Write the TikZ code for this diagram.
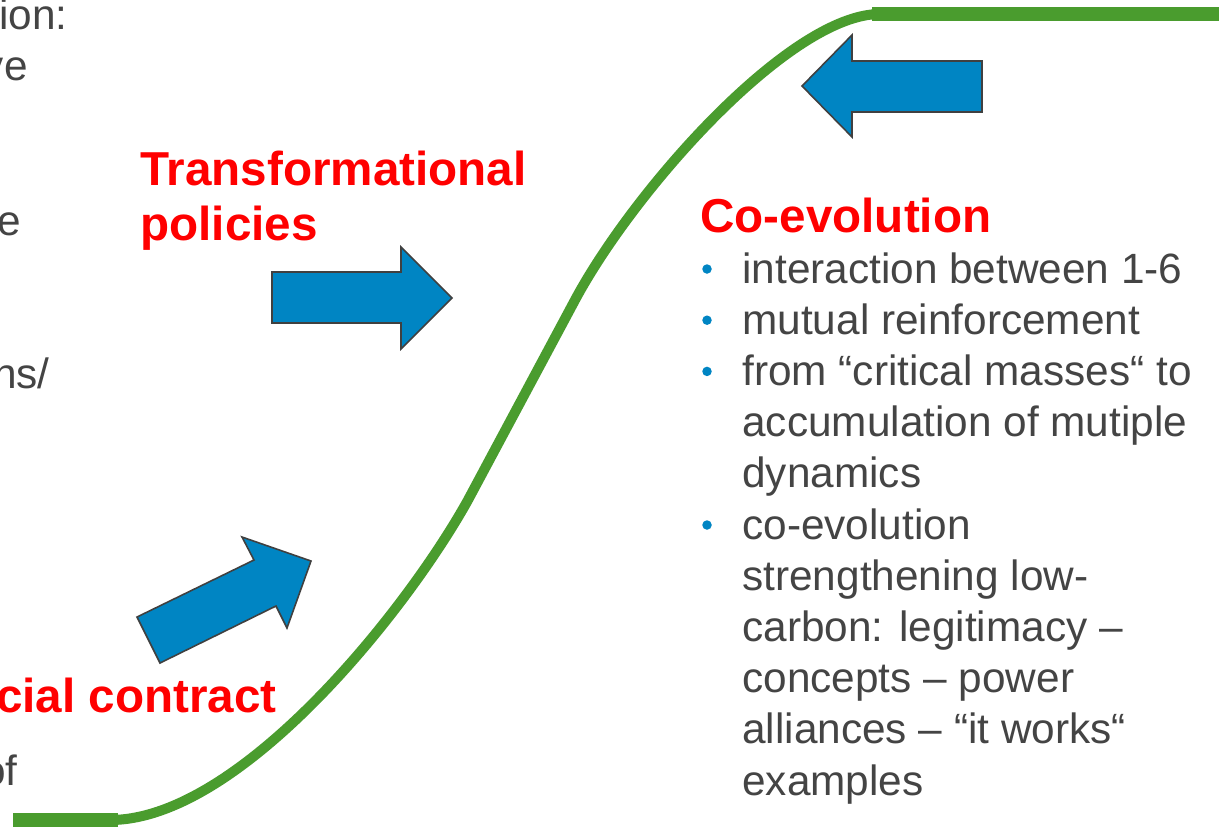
\documentclass[tikz,border=0pt]{standalone}
\usepackage{fontspec}
\setmainfont{Liberation Sans}
\usetikzlibrary{calc,positioning}
\definecolor{slidegray}{HTML}{444444}
\definecolor{slidered}{HTML}{FF0000}
\definecolor{arrowblue}{RGB}{0,133,195}
\definecolor{arrowline}{HTML}{404040}
\definecolor{curvegreen}{RGB}{74,156,46}
\tikzset{
	bodytext/.style={text=slidegray, inner sep=0pt,
		font=\fontsize{24.1}{29}\selectfont},
	redhead/.style={text=slidered, inner sep=0pt,
		font=\fontsize{27.1}{31}\selectfont\bfseries},
	itemdot/.style={circle, fill=arrowblue, inner sep=0pt, minimum size=0.19cm},
	blockarrow/.style={fill=arrowblue, draw=arrowline, line width=0.9pt, line join=miter},
	scurve/.style={draw=curvegreen, line width=5.7pt},
	sflat/.style={scurve, line width=7.6pt}
}

\begin{document}
\begin{tikzpicture}[x=0.02cm,y=-0.02cm]
	\useasboundingbox[fill=white] (0,0) rectangle (1219,836);
	% the S-curve with its two flat ends
	\draw[sflat] (13,820) -- (118,820);
	\draw[sflat] (872,14) -- (1219,14);
	\draw[scurve] (13,820) -- (110,820) .. controls (240,820) and (407,610) .. (468,500)
		-- (575,300) .. controls (634,190) and (790,14) .. (880,14) -- (1219,14);
	% block arrows
	\draw[blockarrow] (982,61) -- (852,61) -- (852,35) -- (802,86) -- (852,137) -- (852,112) -- (982,112) -- cycle;
	\draw[blockarrow] (272,272) -- (401,272) -- (401,247) -- (452,298) -- (401,349) -- (401,323) -- (272,323) -- cycle;
	\draw[blockarrow] (137,617) -- (254,560) -- (242,537) -- (311,561) -- (287,628) -- (276,606) -- (160,663) -- cycle;
	% cut-off column on the left
	\node[bodytext, anchor=base east] (frA) at (68,29) {ion:};
	\node[bodytext, anchor=base east] (frB) at (28,80) {ve};
	\node[bodytext, anchor=base east] (frC) at (21,235) {e};
	\node[bodytext, anchor=base east] (frD) at (50,388) {ns/};
	\node[bodytext, anchor=base east] (frE) at (18,785) {of};
	\node[redhead, anchor=base east] (social) at (277,712) {cial contract};
	% headings
	\node[redhead, anchor=base west] (trans) at (140,185) {Transformational};
	\node[redhead, anchor=base west] (pol) at (140,240) {policies};
	\node[redhead, anchor=base west] (coevo) at (700,232) {Co-evolution};
	% bullet list, one node per line
	\foreach \line [count=\i] in {interaction between 1-6, mutual reinforcement,
		from “critical masses“ to, accumulation of mutiple, dynamics, co-evolution,
		strengthening low-, carbon: legitimacy –, concepts – power,
		alliances – “it works“, examples}
		\node[bodytext, anchor=base west] (co\i) at (742,{283+51.2*(\i-1)}) {\line};
	\foreach \i in {1,2,3,6}
		\node[itemdot] (dot\i) at ($(co\i.base west)+(-35,-14)$) {};
\end{tikzpicture}
\end{document}
